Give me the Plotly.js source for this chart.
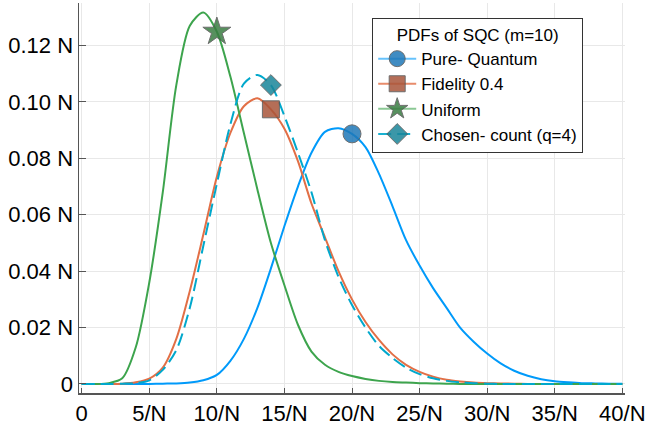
<!DOCTYPE html>
<html>
<head>
<meta charset="utf-8">
<script src="https://cdn.plot.ly/plotly-3.0.1.min.js"></script>
<style>html,body{margin:0;padding:0;background:#fff}#chart{width:645px;height:428px}</style>
</head>
<body>
<div id="chart"></div>
<script>
// x grid (in units of 1/N)
const xs = [0,1,2,3,4,5,6,7,8,9,10,11,12,13,14,15,16,17,18,19,20,21,22,23,24,25,26,27,28,29,30,31,32,33,34,35,36,37,38,39,40];

const pureQuantum = [0,0,0,0,0,0,0.0001,0.0002,0.0005,0.0013,0.0032,0.0082,0.016,0.027,0.041,0.056,0.070,0.082,0.0894,0.0907,0.0887,0.0840,0.0745,0.063,0.051,0.042,0.034,0.027,0.020,0.015,0.0108,0.0073,0.0047,0.0029,0.0017,0.0010,0.0006,0.0003,0.0002,0.0001,0.0001];
const fidelity = [0,0,0,0.0001,0.0006,0.0019,0.0058,0.016,0.033,0.053,0.0735,0.089,0.0985,0.1013,0.0974,0.0905,0.079,0.064,0.052,0.040,0.030,0.022,0.0156,0.0105,0.0068,0.0043,0.0026,0.0015,0.0009,0.0005,0.0003,0.0002,0.0001,0,0,0,0,0,0,0,0];
const uniform = [0,0,0.0003,0.002,0.013,0.036,0.068,0.106,0.127,0.1317,0.1249,0.109,0.089,0.069,0.050,0.035,0.021,0.0115,0.0068,0.0043,0.0028,0.0018,0.0011,0.0007,0.0005,0.0003,0.0002,0.0001,0,0,0,0,0,0,0,0,0,0,0,0,0];
const chosenCount = [0,0,0,0.0001,0.0003,0.0013,0.005,0.012,0.027,0.049,0.071,0.092,0.1065,0.1096,0.1060,0.095,0.082,0.068,0.051,0.038,0.028,0.020,0.0135,0.0092,0.0058,0.0035,0.0020,0.0011,0.0006,0.0003,0.0001,0,0,0,0,0,0,0,0,0,0];

const seriesNames = ["Pure- Quantum","Fidelity 0.4","Uniform","Chosen- count (q=4)"];
const markerIdx = [20,14,10,14];

const xTickVals = [0,5,10,15,20,25,30,35,40];
const xTickText = ["0","5/N","10/N","15/N","20/N","25/N","30/N","35/N","40/N"];
const yTickVals = [0,0.02,0.04,0.06,0.08,0.10,0.12];
const yTickText = ["0","0.02 N","0.04 N","0.06 N","0.08 N","0.10 N","0.12 N"];
const legendTitle = "PDFs of SQC (m=10)";

const data = [pureQuantum, fidelity, uniform, chosenCount];
const lineColors = ["#009AFA","#E26F46","#3DA44D","#00A8CC"];
const legendLineColors = ["rgba(0,154,250,0.6)","rgba(226,111,70,0.8)","rgba(61,164,77,0.6)","rgba(0,168,204,0.9)"];
const dashes = ["solid","solid","solid","13px,6px"];
const markerColors = ["#1F78B8","#A9553A","#3A7D42","#1A8599"];
const symbols = ["circle","square","star","diamond"];
const sizes = [18,17,21,16];

const traces = [];
data.forEach((ys,i)=>{
  traces.push({
    x: xs, y: ys, type:'scatter', mode:'lines', showlegend:false,
    line:{color:lineColors[i], width:2, dash:dashes[i], shape:'spline', smoothing:0.8},
    hoverinfo:'skip'
  });
});
data.forEach((ys,i)=>{
  const k = markerIdx[i];
  traces.push({
    x:[xs[k]], y:[ys[k]], type:'scatter', mode:'lines+markers', name:seriesNames[i],
    line:{color:legendLineColors[i], width:2, dash:dashes[i]},
    marker:{symbol:symbols[i], size:sizes[i], color:markerColors[i], opacity:0.85,
            line:{color:'#555555', width:1}}
  });
});

const font = "Liberation Sans, Arial, sans-serif";
const layout = {
  width:645, height:428,
  margin:{l:79, r:20, t:3, b:35, pad:0},
  paper_bgcolor:'#ffffff', plot_bgcolor:'#ffffff',
  font:{family:font, color:'#000000'},
  showlegend:true,
  xaxis:{
    range:[-0.2,40.2], tickvals:xTickVals, ticktext:xTickText,
    tickfont:{size:22, family:font}, showgrid:true, gridcolor:'#E8E8E8', gridwidth:1,
    zeroline:false, showline:true, linecolor:'#555555', linewidth:1.5,
    ticks:'inside', ticklen:5, tickcolor:'#555555', mirror:false,
    ticklabeloverflow:'allow'
  },
  yaxis:{
    range:[-0.0032,0.1351], tickvals:yTickVals, ticktext:yTickText,
    tickfont:{size:22, family:font}, showgrid:true, gridcolor:'#E8E8E8', gridwidth:1,
    zeroline:false, showline:true, linecolor:'#555555', linewidth:1.5,
    ticks:'inside', ticklen:7, tickcolor:'#555555', mirror:false,
    ticklabeloverflow:'allow'
  },
  legend:{
    x:0.537, y:0.9615, xanchor:'left', yanchor:'top',
    bgcolor:'#ffffff', bordercolor:'#333333', borderwidth:1,
    font:{size:17, family:font},
    title:{text:legendTitle, side:'top center', font:{size:17, family:font}},
    tracegroupgap:0, itemwidth:38
  }
};

Plotly.newPlot('chart', traces, layout, {staticPlot:true, displayModeBar:false});
</script>
</body>
</html>
